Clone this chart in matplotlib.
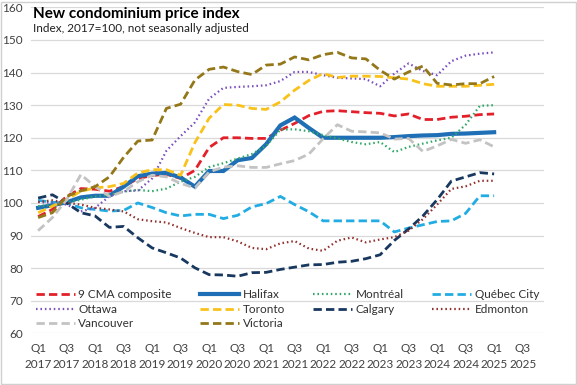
import numpy as np
import matplotlib.pyplot as plt
from matplotlib.patches import Rectangle

plt.rcParams['font.family'] = ['Lato', 'DejaVu Sans']

years = list(range(2017, 2026))
quarters = [f"Q{q}\n{y}" for y in years for q in (1, 2, 3, 4)]

cma9 = [95.8, 98, 102, 104.4, 104.2, 103.6, 105, 107.5, 108.4, 108.8, 107.5, 110, 117, 120, 120,
        119.8, 119.8, 122.3, 124.4, 126.8, 128.1, 128.3, 128, 127.7, 127.5, 126.7, 127.3, 125.6,
        125.6, 126.3, 126.6, 127.1, 127.3]
halifax = [98.5, 99.3, 100.2, 101.7, 102.2, 102.2, 105, 108.2, 109, 109.2, 107.8, 105, 109.8, 109.8,
           113.1, 113.8, 118, 123.8, 126.2, 123, 120, 120, 120, 120, 120, 120.2, 120.5, 120.7,
           120.8, 121.2, 121.3, 121.5, 121.7]
montreal = [99, 99.5, 100, 101, 102, 102.5, 103.5, 104, 103.6, 104.4, 106.5, 108, 111, 112.2, 113.6,
            115, 117.5, 122.5, 122.6, 122, 120.8, 119.8, 118.7, 118, 118.7, 115.6, 117.2, 118.2,
            119.2, 120, 124, 129.8, 130]
quebec = [100.8, 100.2, 100, 98.5, 98, 97.5, 97.7, 100, 98.6, 97, 96, 96.5, 96.5, 95.2, 96.2, 98.8,
          99.8, 102, 99.5, 97.3, 94.5, 94.5, 94.5, 94.5, 94.5, 91.1, 92.3, 93.3, 94.3, 94.5, 96.8,
          102.2, 102.2]
ottawa = [100.3, 100, 99.5, 97.4, 98.5, 102, 103.6, 103.8, 107.5, 116, 120.5, 124.7, 132, 135.3,
          135.6, 135.8, 136.1, 137.4, 140.2, 140.2, 139.2, 138.4, 138.2, 138, 135.8, 139.7, 142.8,
          140.5, 139.2, 143.5, 145.2, 145.8, 146.2]
toronto = [97, 99, 101, 103.6, 104.6, 105, 106, 109.2, 110.2, 110.2, 108.5, 118.5, 126, 130.2, 130,
           129, 128.7, 131, 134.6, 137.6, 139.7, 138.5, 138.9, 138.9, 138.8, 138.4, 138, 136.6,
           135.8, 135.8, 135.8, 136.1, 136.4]
calgary = [101.5, 102.5, 100, 97, 96, 92.5, 92.8, 89.3, 86.2, 84.7, 83.1, 80.1, 78, 77.9, 77.5, 78.6,
           78.7, 79.6, 80.3, 81, 81.1, 81.8, 82.1, 82.9, 84.1, 88.5, 92, 96, 101, 106.7, 108, 109.3,
           108.9]
edmonton = [100.3, 100.8, 100, 99.5, 98.5, 98, 97.4, 95, 94.4, 94, 92.3, 90.8, 89.5, 89.5, 88.2, 86.2,
            85.8, 87.6, 88.3, 86, 85.3, 88.4, 89.4, 87.9, 88.8, 89.5, 91.5, 95, 99.5, 104.3, 105.1,
            106.8, 106.8]
vancouver = [91.5, 95.5, 101, 108.7, 105, 102, 103.5, 106.5, 108.5, 108, 106, 104.6, 109.5, 111, 111.4,
             110.9, 110.9, 112, 113, 115, 119.7, 124, 122, 121.8, 121.5, 119.6, 119.8, 115.8, 117.5,
             119.5, 118.3, 119.4, 117.2]
victoria = [95.5, 97, 102, 103.7, 105, 108, 114, 119, 119.3, 129, 130.3, 137.7, 141, 141.7, 140.3,
            139.4, 142.3, 142.6, 144.8, 143.9, 145.5, 146.2, 144.5, 144.2, 140.7, 138, 140.2, 142,
            136.7, 136.2, 136.6, 136.6, 138.8]

dash = (3, 1.5)
dot = (0.7, 1.3)
series = [
    ("9 CMA composite", cma9, '#E3202A', 2.0, dash),
    ("Halifax", halifax, '#1E6FB5', 3.0, None),
    ("Montréal", montreal, '#2EA866', 1.6, dot),
    ("Québec City", quebec, '#21ADE3', 2.0, dash),
    ("Ottawa", ottawa, '#7B4FBF', 1.6, dot),
    ("Toronto", toronto, '#F9C21A', 2.0, dash),
    ("Calgary", calgary, '#18385F', 2.0, dash),
    ("Edmonton", edmonton, '#93302E', 1.6, dot),
    ("Vancouver", vancouver, '#C3C3C3', 2.0, dash),
    ("Victoria", victoria, '#937718', 2.0, dash),
]

fig = plt.figure(figsize=(5.77, 3.85), dpi=100)
ax = fig.add_axes([31 / 577, 1 - 333.3 / 385, 513 / 577, (333.3 - 7.4) / 385])

x = np.arange(len(cma9))
handles = {}
for name, vals, color, lw, ds in series:
    if ds is None:
        line, = ax.plot(x, vals, color=color, lw=lw, solid_joinstyle='miter')
    else:
        line, = ax.plot(x, vals, color=color, lw=lw, dashes=ds)
    handles[name] = line

ax.set_xlim(-0.5, len(quarters) - 0.5)
ax.set_ylim(60, 160)
ax.set_yticks(range(60, 161, 10))
ax.set_xticks(range(0, len(quarters), 2))
ax.set_xticklabels(quarters[::2], linespacing=1.6)
ax.tick_params(length=0, labelsize=8.5, colors='#404040')
ax.tick_params(axis='x', pad=7)
ax.tick_params(axis='y', pad=6)
ax.grid(axis='y', color='#D9D9D9', lw=0.9)
ax.set_axisbelow(True)
for s in ax.spines.values():
    s.set_visible(False)

order = ["9 CMA composite", "Ottawa", "Vancouver", "Halifax", "Toronto", "Victoria",
         "Montréal", "Calgary", "Québec City", "Edmonton"]
ax.legend([handles[n] for n in order], order, ncol=4, frameon=False, fontsize=8.5,
          loc='lower left', bbox_to_anchor=(0.0, -0.002, 1.0, 0.2), mode='expand',
          handlelength=3.3, handletextpad=0.3, labelspacing=0.3, borderaxespad=0,
          labelcolor='#303030')

fig.text(33 / 577, 1 - 14 / 385, "New condominium price index", fontsize=11, fontweight='bold',
         va='center', color='#000000')
fig.text(33 / 577, 1 - 28 / 385, "Index, 2017=100, not seasonally adjusted", fontsize=8.5,
         va='center', color='#202020')

fig.patches.append(Rectangle((0.002, 0.002), 0.996, 0.994, transform=fig.transFigure,
                             fill=False, edgecolor='#D0D0D0', lw=1))

plt.savefig("out.png", dpi=100)
